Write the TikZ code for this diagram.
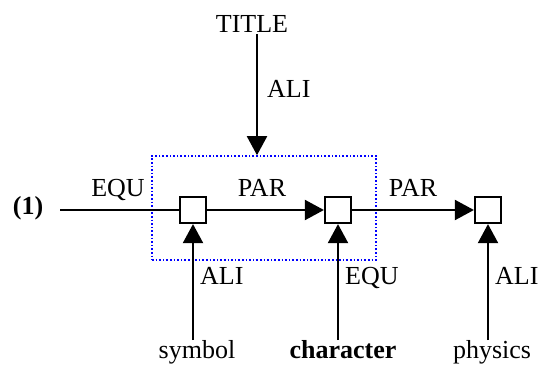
\documentclass[tikz,border=0pt]{standalone}
\usepackage{fontspec}
\setmainfont{Liberation Serif}
\usetikzlibrary{arrows.meta}
\begin{document}
\begin{tikzpicture}[x=1pt,y=-1pt,
  every node/.style={font=\fontsize{26}{30}\selectfont},
  lbl/.style={inner sep=0pt,anchor=base},
  jbox/.style={draw,line width=2.2pt,minimum width=26pt,minimum height=26pt,inner sep=0pt,fill=white},
  conn/.style={line width=2pt},
  arr/.style={conn,-{Triangle[length=19pt,width=20pt]}},
  group/.style={draw=blue,dotted,line width=1.6pt,minimum width=224pt,minimum height=104pt,inner sep=0pt}]
\useasboundingbox (0,0) rectangle (540,367);
\node[group] (g) at (264,208) {};
\node[jbox] (b1) at (193,210) {};
\node[jbox] (b2) at (338,210) {};
\node[jbox] (b3) at (488,210) {};
\node[lbl,font=\fontsize{26}{30}\selectfont\bfseries] (one) at (28,214) {(1)};
\coordinate (s) at (60,210);
\node[lbl] (title) at (252,32) {TITLE};
\node[lbl] (sym) at (197,358) {symbol};
\node[lbl,font=\fontsize{26}{30}\selectfont\bfseries] (chr) at (343,358) {character};
\node[lbl] (phy) at (492,358) {physics};
\coordinate (t1) at (257,34);
\coordinate (u1) at (193,340);
\coordinate (u2) at (338,340);
\coordinate (u3) at (488,340);
\draw[conn] (s) -- (b1.west);
\draw[arr] (b1.east) -- (b2.west);
\draw[arr] (b2.east) -- (b3.west);
\draw[arr] (t1) -- (t1 |- g.north);
\draw[arr] (u1) -- (b1.south);
\draw[arr] (u2) -- (b2.south);
\draw[arr] (u3) -- (b3.south);
\node[lbl] (l1) at (118,196) {EQU};
\node[lbl] (l2) at (262,196) {PAR};
\node[lbl] (l3) at (413,196) {PAR};
\node[lbl,anchor=base west] (l4) at (267,97) {ALI};
\node[lbl,anchor=base west] (l5) at (200,284) {ALI};
\node[lbl,anchor=base west] (l6) at (345,284) {EQU};
\node[lbl,anchor=base west] (l7) at (495,284) {ALI};
\end{tikzpicture}
\end{document}
